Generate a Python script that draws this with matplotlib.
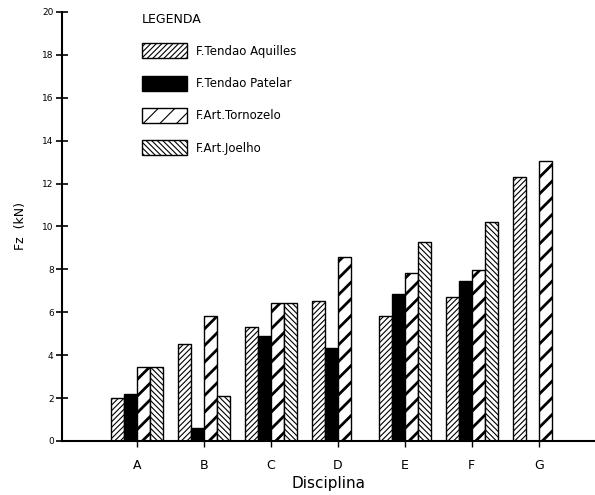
import numpy as np
import matplotlib
matplotlib.use("Agg")
import matplotlib.pyplot as plt
from matplotlib.patches import Patch

# --- Dados ---
disciplinas = ["A", "B", "C", "D", "E", "F", "G"]
tendao_aquiles = [2.0, 4.5, 5.3, 6.55, 5.85, 6.7, 12.3]
tendao_patelar = [2.2, 0.6, 4.9, 4.35, 6.85, 7.45, 0.0]
art_tornozelo = [3.45, 5.85, 6.45, 8.6, 7.85, 7.95, 13.05]
art_joelho = [3.45, 2.1, 6.45, 0.0, 9.3, 10.2, 0.0]

series = [
    ("F.Tendao Aquilles", tendao_aquiles, "white", "//////", 0.8),
    ("F.Tendao Patelar", tendao_patelar, "black", "", 0.8),
    ("F.Art.Tornozelo", art_tornozelo, "white", "//", 2.0),
    ("F.Art.Joelho", art_joelho, "white", "\\\\\\\\\\\\", 0.8),
]

plt.rcParams["font.family"] = "DejaVu Sans"

fig = plt.figure(figsize=(5.95, 4.95), dpi=100)
ax = fig.add_axes([62 / 595, 54 / 495, 533 / 595, 429 / 495])

x = np.arange(len(disciplinas))
largura = 0.195

handles = []
for i, (nome, valores, cor, hachura, lw_h) in enumerate(series):
    plt.rcParams["hatch.linewidth"] = lw_h
    barras = ax.bar(x + (i - 1.5) * largura, valores, largura,
                    color=cor, edgecolor="black", hatch=hachura, linewidth=1.0)
    for b in barras:
        try:
            b.set_hatch_linewidth(lw_h)
        except AttributeError:
            pass
    h = Patch(facecolor=cor, edgecolor="black", hatch=hachura, linewidth=1.0, label=nome)
    try:
        h.set_hatch_linewidth(lw_h)
    except AttributeError:
        pass
    handles.append(h)

ax.set_xlim(-1.12, 6.84)
ax.set_ylim(0, 20)
ax.set_yticks(range(0, 21, 2))
ax.set_xticks(x)
ax.set_xticklabels(disciplinas, fontsize=9)
ax.tick_params(axis="y", direction="inout", length=8, width=1.2, labelsize=6.5, pad=2)
ax.tick_params(axis="x", direction="out", length=4, width=1.0, pad=9)

for lado in ["top", "right"]:
    ax.spines[lado].set_visible(False)
ax.spines["left"].set_linewidth(1.5)
ax.spines["bottom"].set_linewidth(1.5)

ax.set_xlabel("Disciplina", fontsize=11, labelpad=3)
ax.set_ylabel("Fz  (kN)", fontsize=9, labelpad=11)

leg = ax.legend(handles=handles, title="LEGENDA", loc="upper left",
                bbox_to_anchor=(0.13, 1.022), frameon=False, fontsize=8.5,
                title_fontsize=9, handlelength=3.8, handleheight=1.6,
                labelspacing=1.45, alignment="left")

fig.savefig("out.png", dpi=100)
